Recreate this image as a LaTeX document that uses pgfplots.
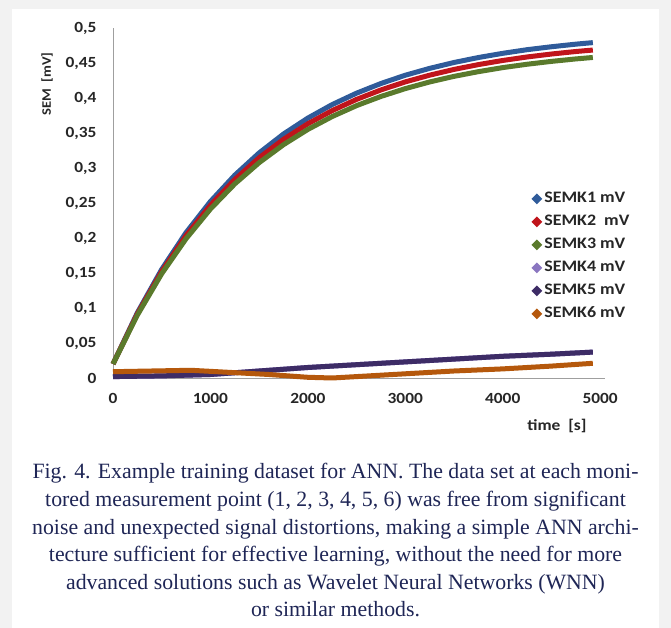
\documentclass[border=0pt]{standalone}
\usepackage{fontspec}
\setmainfont{Carlito}[FakeStretch=1.12]
\newfontfamily\capfont{Liberation Serif}
\usepackage{pgfplots}
\pgfplotsset{compat=1.18}
\definecolor{cblue}{HTML}{2F5B9A}
\definecolor{cred}{HTML}{C0141B}
\definecolor{cgreen}{HTML}{5A7A2C}
\definecolor{clpurple}{HTML}{8A76C0}
\definecolor{cdpurple}{HTML}{3D2C66}
\definecolor{corange}{HTML}{B5580C}
\definecolor{captxt}{HTML}{1F2656}
\definecolor{bggray}{HTML}{F2F2F2}
\begin{document}
\begin{tikzpicture}[x=1pt,y=1pt]
\fill[bggray] (0,0) rectangle (671,628);
\fill[white] (12,0) rectangle (659,619);
\begin{axis}[
  at={(113pt,250pt)}, anchor=south west,
  scale only axis, width=492pt, height=350pt,
  xmin=0, xmax=5050, ymin=0, ymax=0.5,
  clip=false,
  axis lines=left,
  axis line style={draw=gray!75, line width=0.8pt, -},
  xtick={0,1000,2000,3000,4000,5000},
  ytick={0,0.05,0.1,0.15,0.2,0.25,0.3,0.35,0.4,0.45,0.5},
  major tick length=0pt,
  tick label style={font=\fontsize{15.5}{18}\selectfont\bfseries, text=black!85},
  yticklabel style={xshift=-13pt},
  xticklabel style={yshift=-12pt},
  /pgf/number format/assume math mode=true,
  /pgf/number format/use comma,
  /pgf/number format/fixed,
  /pgf/number format/1000 sep={},
  legend style={at={(0.846,0.538)}, anchor=north west, draw=none, fill=none,
    font=\fontsize{16}{18}\selectfont\bfseries, text=black!85,
    row sep=9pt, nodes={inner sep=1pt, text height=10pt, text depth=2pt}},
  legend cell align=left,
  legend image code/.code={\fill (2pt,0pt) circle (1.9pt); \path (6pt,0pt);},
]
\addplot[color=cblue, line width=5pt] coordinates {
(0,0.020) (250,0.0932) (500,0.1552) (750,0.2077) (1000,0.2521) (1250,0.2897)
(1500,0.3215) (1750,0.3485) (2000,0.3713) (2250,0.3906) (2500,0.4069)
(2750,0.4207) (3000,0.4325) (3250,0.4423) (3500,0.4507) (3750,0.4578)
(4000,0.4638) (4250,0.4690) (4500,0.4732) (4750,0.4769) (4925,0.4791)};
\addlegendentry{SEMK1 mV}
\addplot[color=cred, line width=5pt] coordinates {
(0,0.020) (250,0.0915) (500,0.1521) (750,0.2034) (1000,0.2468) (1250,0.2835)
(1500,0.3146) (1750,0.3409) (2000,0.3632) (2250,0.3820) (2500,0.3980)
(2750,0.4115) (3000,0.4230) (3250,0.4326) (3500,0.4408) (3750,0.4477)
(4000,0.4536) (4250,0.4586) (4500,0.4628) (4750,0.4664) (4925,0.4685)};
\addlegendentry{SEMK2\ \ mV}
\addplot[color=cgreen, line width=5pt] coordinates {
(0,0.020) (250,0.0898) (500,0.1490) (750,0.1990) (1000,0.2414) (1250,0.2773)
(1500,0.3076) (1750,0.3333) (2000,0.3551) (2250,0.3735) (2500,0.3891)
(2750,0.4022) (3000,0.4134) (3250,0.4229) (3500,0.4309) (3750,0.4376)
(4000,0.4434) (4250,0.4482) (4500,0.4523) (4750,0.4558) (4925,0.4579)};
\addlegendentry{SEMK3 mV}
\addplot[color=clpurple, line width=5pt] coordinates {
(0,0.002) (500,0.003) (1000,0.005) (1500,0.010) (2000,0.015) (2500,0.019)
(3000,0.023) (3500,0.027) (4000,0.031) (4500,0.034) (4925,0.037)};
\addlegendentry{SEMK4 mV}
\addplot[color=cdpurple, line width=5pt] coordinates {
(0,0.002) (500,0.003) (1000,0.005) (1500,0.010) (2000,0.015) (2500,0.019)
(3000,0.023) (3500,0.027) (4000,0.031) (4500,0.034) (4925,0.037)};
\addlegendentry{SEMK5 mV}
\addplot[color=corange, line width=5pt] coordinates {
(0,0.009) (400,0.010) (800,0.011) (1200,0.008) (1600,0.005) (2000,0.001)
(2250,0.000) (2500,0.002) (3000,0.006) (3500,0.010) (4000,0.013)
(4500,0.017) (4925,0.021)};
\addlegendentry{SEMK6 mV}
\end{axis}
\node[font=\fontsize{13}{15}\selectfont\bfseries, text=black!85, rotate=90] at (47,544) {SEM\ \ [mV]};
\node[font=\fontsize{15.5}{18}\selectfont\bfseries, text=black!85] at (557,202) {time\ \ [s]};
\node[font=\capfont\fontsize{21.8}{27.6}\selectfont, text=captxt, align=center, anchor=north] at (335.5,168) {Fig. 4. Example training dataset for ANN. The data set at each moni-\\
tored measurement point (1, 2, 3, 4, 5, 6) was free from significant\\
noise and unexpected signal distortions, making a simple ANN archi-\\
tecture sufficient for effective learning, without the need for more\\
advanced solutions such as Wavelet Neural Networks (WNN)\\
or similar methods.};
\end{tikzpicture}
\end{document}
